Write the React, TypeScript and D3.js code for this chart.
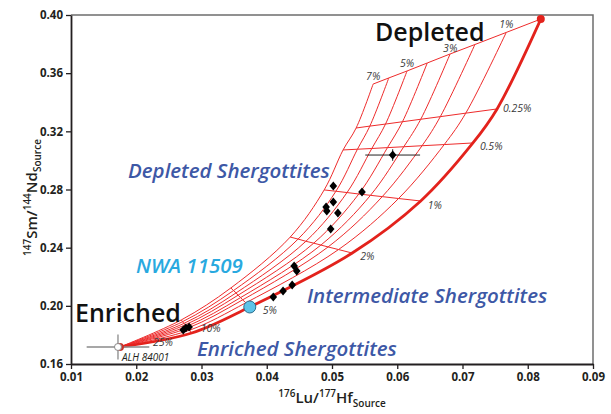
import { useEffect, useRef } from "react";
import * as d3 from "d3";

const W = 611;
const H = 414;
const margin = { top: 15, right: 18, bottom: 50, left: 71 };

const xTicks = [0.01, 0.02, 0.03, 0.04, 0.05, 0.06, 0.07, 0.08, 0.09];
const yTicks = [0.16, 0.2, 0.24, 0.28, 0.32, 0.36, 0.4];

// mixing grid, rows = % enriched component, columns = curve 0 (E-D) .. curve 7
const mixLevels = ["", "0.25%", "0.5%", "1%", "2%", "5%", "10%"];
const topLabels = ["", "1%", "", "3%", "", "5%", "", "7%"];
const gridLu = [
  [0.082, 0.0767, 0.0719, 0.0681, 0.0646, 0.0615, 0.0587, 0.0563],
  [0.0753, 0.0705, 0.0666, 0.0636, 0.0608, 0.0582, 0.0558, 0.0537],
  [0.0716, 0.0672, 0.0638, 0.061, 0.0585, 0.0561, 0.0539, 0.0517],
  [0.0636, 0.0602, 0.0577, 0.0559, 0.0541, 0.0523, 0.0506, 0.0488],
  [0.0531, 0.051, 0.0494, 0.0483, 0.0472, 0.046, 0.0448, 0.0436],
  [0.0374, 0.0368, 0.0363, 0.036, 0.0356, 0.0353, 0.0349, 0.0345],
  [0.0285, 0.0282, 0.0279, 0.0277, 0.0275, 0.0273, 0.0271, 0.0269],
];
const gridSm = [
  [0.3972, 0.388, 0.3797, 0.3732, 0.367, 0.3615, 0.3567, 0.3525],
  [0.3354, 0.3325, 0.3301, 0.3283, 0.3266, 0.325, 0.3236, 0.3223],
  [0.312, 0.3109, 0.3101, 0.3094, 0.3088, 0.3082, 0.3077, 0.3072],
  [0.2721, 0.2738, 0.2751, 0.276, 0.2769, 0.2779, 0.2788, 0.2797],
  [0.2363, 0.2387, 0.2405, 0.2418, 0.2431, 0.2444, 0.2459, 0.2473],
  [0.1992, 0.2021, 0.2041, 0.2057, 0.2073, 0.2089, 0.2105, 0.2123],
  [0.1813, 0.1833, 0.1847, 0.1858, 0.1869, 0.1879, 0.1891, 0.1903],
];
const enrichedLu = 0.0175;
const enrichedSm = 0.1717;

// shergottite samples
const sampleLu = [0.0502, 0.0546, 0.0502, 0.0491, 0.0492, 0.0509, 0.0498, 0.0442, 0.0446, 0.0439, 0.0425, 0.041, 0.0593, 0.0272, 0.0276, 0.0281];
const sampleSm = [0.2824, 0.2783, 0.2714, 0.268, 0.2652, 0.2638, 0.2528, 0.2274, 0.2239, 0.2143, 0.2102, 0.2061, 0.3037, 0.1834, 0.1848, 0.1854];
const errSample = { lu: 0.0593, sm: 0.3037, dLu: 0.0042, dSm: 0.004 };
const alh = { lu: 0.0172, sm: 0.1717, dLu: 0.0048, dSm: 0.0086 };
const nwa = { lu: 0.0374, sm: 0.1992 };

const RED = "#ee2b2b";
const BLUE = "#3d58a6";
const FONT = "'Open Sans', 'Noto Sans', sans-serif";

export default function App() {
  const svgRef = useRef<SVGSVGElement>(null);

  useEffect(() => {
    const svg = d3.select(svgRef.current);
    svg.selectAll("*").remove();

    const width = W - margin.left - margin.right;
    const height = H - margin.top - margin.bottom;
    const x = d3.scaleLinear().domain([0.01, 0.09]).range([0, width]);
    const y = d3.scaleLinear().domain([0.16, 0.4]).range([height, 0]);

    const g = svg.append("g").attr("transform", `translate(${margin.left},${margin.top})`);

    // frame on top and right
    g.append("path")
      .attr("d", `M0,0H${width}V${height}`)
      .attr("fill", "none")
      .attr("stroke", "#6d6d6d")
      .attr("stroke-width", 1.5);

    const xAxis = g
      .append("g")
      .attr("transform", `translate(0,${height})`)
      .call(d3.axisBottom(x).tickValues(xTicks).tickFormat(d3.format(".2f")).tickSize(5).tickSizeOuter(0));
    const yAxis = g
      .append("g")
      .call(d3.axisLeft(y).tickValues(yTicks).tickFormat(d3.format(".2f")).tickSize(5).tickSizeOuter(0));
    [xAxis, yAxis].forEach((a) => {
      a.select(".domain").attr("stroke", "#231f20").attr("stroke-width", 1.8);
      a.selectAll(".tick line").attr("stroke", "#231f20").attr("stroke-width", 1.3);
      a.selectAll(".tick text")
        .attr("fill", "#231f20")
        .style("font-family", FONT)
        .style("font-weight", "700")
        .style("font-size", "11.5px");
    });
    xAxis.selectAll(".tick text").attr("dy", "0.75em");

    // curves from the enriched end to each point on the top line
    const line = d3
      .line<[number, number]>()
      .x((d) => x(d[0]))
      .y((d) => y(d[1]))
      .curve(d3.curveCatmullRom.alpha(0.5));
    const straight = d3
      .line<[number, number]>()
      .x((d) => x(d[0]))
      .y((d) => y(d[1]));

    const curvePts = (k: number): [number, number][] => {
      const pts: [number, number][] = [[enrichedLu, enrichedSm]];
      for (let r = gridLu.length - 1; r >= 0; r--) pts.push([gridLu[r][k], gridSm[r][k]]);
      return pts;
    };

    for (let k = 1; k < 8; k++) {
      g.append("path")
        .attr("d", line(curvePts(k)))
        .attr("fill", "none")
        .attr("stroke", RED)
        .attr("stroke-width", 1);
    }
    gridLu.forEach((row, r) => {
      const pts = row.map((v, k) => [v, gridSm[r][k]] as [number, number]);
      g.append("path")
        .attr("d", straight(pts))
        .attr("fill", "none")
        .attr("stroke", RED)
        .attr("stroke-width", 1);
    });
    g.append("path")
      .attr("d", line(curvePts(0)))
      .attr("fill", "none")
      .attr("stroke", "#e3221c")
      .attr("stroke-width", 2.8);

    // percentage labels
    const pct = (px: number, py: number, t: string) =>
      g.append("text")
        .attr("x", px)
        .attr("y", py)
        .style("font-family", FONT)
        .style("font-style", "italic")
        .style("font-size", "10.5px")
        .attr("fill", "#3a3a3a")
        .text(t);
    topLabels.forEach((t, k) => {
      if (t) pct(x(gridLu[0][k]) - 7, y(gridSm[0][k]) - (k === 3 ? 2 : 4), t);
    });
    const off = [[0, 0], [6, 3], [7, 7], [7, 8], [8, 7], [13, 7], [9, -1]];
    mixLevels.forEach((t, r) => {
      if (t) pct(x(gridLu[r][0]) + off[r][0], y(gridSm[r][0]) + off[r][1], t);
    });
    pct(x(enrichedLu) + 33, y(enrichedSm) - 1, "25%");

    // end members
    g.append("circle").attr("cx", x(gridLu[0][0])).attr("cy", y(gridSm[0][0])).attr("r", 4).attr("fill", "#e3221c");

    // ALH 84001
    g.append("line")
      .attr("x1", x(alh.lu - alh.dLu)).attr("x2", x(alh.lu + alh.dLu))
      .attr("y1", y(alh.sm)).attr("y2", y(alh.sm))
      .attr("stroke", "#8a8a8a").attr("stroke-width", 1.3);
    g.append("line")
      .attr("x1", x(alh.lu)).attr("x2", x(alh.lu))
      .attr("y1", y(alh.sm - alh.dSm)).attr("y2", y(alh.sm + alh.dSm))
      .attr("stroke", "#8a8a8a").attr("stroke-width", 1.3);
    g.append("circle").attr("cx", x(enrichedLu)).attr("cy", y(enrichedSm)).attr("r", 4).attr("fill", "#c9332b");
    g.append("circle").attr("cx", x(alh.lu)).attr("cy", y(alh.sm)).attr("r", 3.5)
      .attr("fill", "#fff").attr("stroke", "#8a8a8a").attr("stroke-width", 1);
    g.append("text")
      .attr("x", x(alh.lu) + 4)
      .attr("y", y(alh.sm) + 14)
      .style("font-family", FONT)
      .style("font-style", "italic")
      .style("font-size", "10px")
      .attr("fill", "#231f20")
      .text("ALH 84001");

    // error bars of one sample
    g.append("line")
      .attr("x1", x(errSample.lu - errSample.dLu)).attr("x2", x(errSample.lu + errSample.dLu))
      .attr("y1", y(errSample.sm)).attr("y2", y(errSample.sm))
      .attr("stroke", "#222").attr("stroke-width", 1);
    g.append("line")
      .attr("x1", x(errSample.lu)).attr("x2", x(errSample.lu))
      .attr("y1", y(errSample.sm - errSample.dSm)).attr("y2", y(errSample.sm + errSample.dSm))
      .attr("stroke", "#222").attr("stroke-width", 1);

    g.selectAll(".sample")
      .data(sampleLu)
      .enter()
      .append("path")
      .attr("class", "sample")
      .attr("d", "M0,-4.5L3.8,0L0,4.5L-3.8,0Z")
      .attr("transform", (d, i) => `translate(${x(d)},${y(sampleSm[i])})`)
      .attr("fill", "#000");

    // NWA 11509
    g.append("circle").attr("cx", x(nwa.lu)).attr("cy", y(nwa.sm)).attr("r", 6)
      .attr("fill", "#5cc3e8").attr("stroke", "#2b6f8f").attr("stroke-width", 1);

    // region labels
    const label = (px: number, py: number, t: string, size: number, color: string, italic: boolean, weight: number) =>
      g.append("text")
        .attr("x", px)
        .attr("y", py)
        .style("font-family", FONT)
        .style("font-style", italic ? "italic" : "normal")
        .style("font-weight", weight)
        .style("font-size", `${size}px`)
        .attr("fill", color)
        .text(t);
    label(304, 26, "Depleted", 25, "#111", false, 600);
    label(4, 307, "Enriched", 25, "#111", false, 600);
    label(57, 163, "Depleted Shergottites", 20.5, BLUE, true, 600);
    label(65, 258, "NWA 11509", 20.5, "#29a9df", true, 600);
    label(236, 288, "Intermediate Shergottites", 20.5, BLUE, true, 600);
    label(126, 341, "Enriched Shergottites", 20.5, BLUE, true, 600);

    // axis titles
    const xt = svg.append("text")
      .attr("x", margin.left + width / 2)
      .attr("y", 403)
      .attr("text-anchor", "middle")
      .style("font-family", FONT)
      .style("font-weight", 600)
      .style("font-size", "15px")
      .attr("fill", "#231f20");
    xt.append("tspan").attr("font-size", "10px").attr("dy", -6).text("176");
    xt.append("tspan").attr("dy", 6).text("Lu/");
    xt.append("tspan").attr("font-size", "10px").attr("dy", -6).text("177");
    xt.append("tspan").attr("dy", 6).text("Hf");
    xt.append("tspan").attr("font-size", "10px").attr("dy", 4).text("Source");

    const yt = svg.append("text")
      .attr("transform", `translate(37,${margin.top + height / 2 + 8}) rotate(-90)`)
      .attr("text-anchor", "middle")
      .style("font-family", FONT)
      .style("font-weight", 600)
      .style("font-size", "15px")
      .attr("fill", "#231f20");
    yt.append("tspan").attr("font-size", "10px").attr("dy", -6).text("147");
    yt.append("tspan").attr("dy", 6).text("Sm/");
    yt.append("tspan").attr("font-size", "10px").attr("dy", -6).text("144");
    yt.append("tspan").attr("dy", 6).text("Nd");
    yt.append("tspan").attr("font-size", "10px").attr("dy", 4).text("Source");
  }, []);

  return (
    <svg
      ref={svgRef}
      width={W}
      height={H}
      style={{ position: "absolute", left: 0, top: 0, background: "#fff" }}
    />
  );
}
